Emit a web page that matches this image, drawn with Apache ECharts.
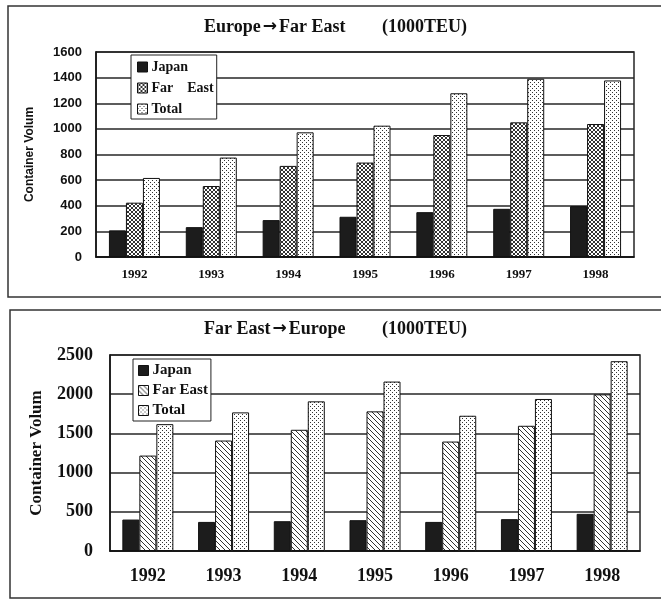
<!DOCTYPE html>
<html>
<head>
<meta charset="utf-8">
<script src="https://cdn.jsdelivr.net/npm/echarts@6/dist/echarts.min.js"></script>
<style>
html,body{margin:0;padding:0;background:#fff;}
#chart{width:661px;height:602px;}
</style>
</head>
<body>
<div id="chart"></div>
<script>
// ---- data ----
const categories = ['1992', '1993', '1994', '1995', '1996', '1997', '1998'];
const seriesNames = ['Japan', 'Far East', 'Total'];

// Europe -> Far East (1000TEU)
const topJapan   = [208, 233, 288, 314, 350, 376, 397];
const topFarEast = [424, 554, 711, 737, 952, 1051, 1038];
const topTotal   = [617, 776, 973, 1025, 1278, 1391, 1378];
const topYTicks  = { min: 0, max: 1600, interval: 200 };

// Far East -> Europe (1000TEU)
const botJapan   = [401, 371, 380, 393, 371, 406, 474];
const botFarEast = [1217, 1409, 1546, 1781, 1396, 1597, 1998];
const botTotal   = [1618, 1768, 1909, 2161, 1725, 1939, 2421];
const botYTicks  = { min: 0, max: 2500, interval: 500 };

// ---- patterns ----
function pattern(size, draw) {
  const c = document.createElement('canvas');
  c.width = c.height = size;
  const ctx = c.getContext('2d');
  ctx.fillStyle = '#fff';
  ctx.fillRect(0, 0, size, size);
  ctx.fillStyle = '#333';
  draw(ctx, size);
  return { image: c, repeat: 'repeat' };
}
const patCross = pattern(4, (ctx, s) => { for (let i = 0; i < s; i++) { ctx.fillRect(i, i, 1, 1); ctx.fillRect(s - 1 - i, i, 1, 1); } });
const patDiag = pattern(5, (ctx, s) => { for (let i = 0; i < s; i++) { ctx.fillRect(i, i, 1, 1); } });
const patDots = pattern(4, (ctx) => { ctx.fillRect(0, 0, 1, 1); ctx.fillRect(2, 2, 1, 1); });
const japanColor = '#1c1c1c';

const serif = '"Liberation Serif", "Times New Roman", serif';
const sans = '"Liberation Sans", Arial, sans-serif';
const lineCol = '#262626';

function barSeries(name, data, color, idx) {
  return {
    name: name, type: 'bar', data: data,
    xAxisIndex: idx, yAxisIndex: idx,
    barWidth: 17, barGap: '0%',
    itemStyle: { color: color, borderColor: '#111', borderWidth: 1 }
  };
}

function legendData(colors) {
  return seriesNames.map((n, i) => ({
    name: n, icon: 'rect',
    itemStyle: { color: colors[i], borderColor: '#111', borderWidth: 1 }
  }));
}

const titleStyle = {
  fontFamily: serif, fontWeight: 'bold', fontSize: 18, color: '#111',
  rich: { a: { fontFamily: '"DejaVu Sans", sans-serif', fontWeight: 'bold', fontSize: 17, color: '#111', padding: [0, 2, 0, 2] } }
};

const chart = echarts.init(document.getElementById('chart'), null, { renderer: 'canvas' });
const option = {
  backgroundColor: '#fff',
  animation: false,
  title: [
    { text: 'Europe{a|→}Far East', left: 204, top: 18, padding: 0, textStyle: titleStyle },
    { text: '(1000TEU)', left: 382, top: 18, padding: 0, textStyle: titleStyle },
    { text: 'Far East{a|→}Europe', left: 204, top: 320, padding: 0, textStyle: titleStyle },
    { text: '(1000TEU)', left: 382, top: 320, padding: 0, textStyle: titleStyle }
  ],
  legend: [
    {
      orient: 'vertical', left: 131, top: 55, padding: [5, 3, 3, 6], itemGap: 7,
      itemWidth: 10, itemHeight: 10, selectedMode: false, icon: 'rect',
      backgroundColor: '#fff', borderColor: '#222', borderWidth: 1, z: 10,
      data: legendData([japanColor, patCross, patDots]),
      formatter: (n) => n === 'Far East' ? 'Far    East' : n,
      textStyle: { fontFamily: serif, fontWeight: 'bold', fontSize: 14, color: '#111', padding: [0, 0, 0, -1] }
    },
    {
      orient: 'vertical', left: 133, top: 359, padding: [4, 3, 3, 5], itemGap: 5,
      itemWidth: 10, itemHeight: 10, selectedMode: false, icon: 'rect',
      backgroundColor: '#fff', borderColor: '#222', borderWidth: 1, z: 10,
      data: legendData([japanColor, patDiag, patDots]),
      textStyle: { fontFamily: serif, fontWeight: 'bold', fontSize: 15, color: '#111', padding: [0, 0, 0, -1] }
    }
  ],
  grid: [
    { left: 96, top: 52, width: 538, height: 205, show: true, borderColor: lineCol, borderWidth: 1.5, backgroundColor: 'transparent' },
    { left: 110, top: 355, width: 530, height: 196, show: true, borderColor: lineCol, borderWidth: 1.5, backgroundColor: 'transparent' }
  ],
  xAxis: [
    {
      gridIndex: 0, type: 'category', data: categories,
      axisTick: { show: false },
      axisLine: { lineStyle: { color: '#111', width: 1.5 } },
      axisLabel: { margin: 11, fontFamily: serif, fontWeight: 'bold', fontSize: 13, color: '#111' }
    },
    {
      gridIndex: 1, type: 'category', data: categories,
      axisTick: { show: false },
      axisLine: { lineStyle: { color: '#111', width: 1.5 } },
      axisLabel: { margin: 16, fontFamily: serif, fontWeight: 'bold', fontSize: 18, color: '#111' }
    }
  ],
  yAxis: [
    {
      gridIndex: 0, type: 'value', min: topYTicks.min, max: topYTicks.max, interval: topYTicks.interval,
      name: 'Container Volum', nameLocation: 'middle', nameGap: 60,
      nameTextStyle: { fontFamily: sans, fontWeight: 'bold', fontSize: 12, color: '#111' },
      axisLine: { show: true, lineStyle: { color: '#111', width: 1.5 } },
      axisTick: { show: false },
      splitLine: { lineStyle: { color: lineCol, width: 1.5 } },
      axisLabel: { margin: 14, fontFamily: sans, fontWeight: 'bold', fontSize: 13, color: '#111', formatter: (v) => String(v) }
    },
    {
      gridIndex: 1, type: 'value', min: botYTicks.min, max: botYTicks.max, interval: botYTicks.interval,
      name: 'Container Volum', nameLocation: 'middle', nameGap: 65,
      nameTextStyle: { fontFamily: serif, fontWeight: 'bold', fontSize: 17, color: '#111' },
      axisLine: { show: true, lineStyle: { color: '#111', width: 1.5 } },
      axisTick: { show: false },
      splitLine: { lineStyle: { color: lineCol, width: 1.5 } },
      axisLabel: { margin: 17, fontFamily: serif, fontWeight: 'bold', fontSize: 18, color: '#111', formatter: (v) => String(v) }
    }
  ],
  series: [
    barSeries('Japan', topJapan, japanColor, 0),
    barSeries('Far East', topFarEast, patCross, 0),
    barSeries('Total', topTotal, patDots, 0),
    barSeries('Japan', botJapan, japanColor, 1),
    barSeries('Far East', botFarEast, patDiag, 1),
    barSeries('Total', botTotal, patDots, 1)
  ],
  graphic: [
    { type: 'rect', shape: { x: 8, y: 6, width: 660, height: 291 }, style: { fill: 'none', stroke: '#333', lineWidth: 1.5 }, z: -1 },
    { type: 'rect', shape: { x: 10, y: 310, width: 660, height: 288 }, style: { fill: 'none', stroke: '#333', lineWidth: 1.5 }, z: -1 }
  ]
};
chart.setOption(option);
</script>
</body>
</html>
